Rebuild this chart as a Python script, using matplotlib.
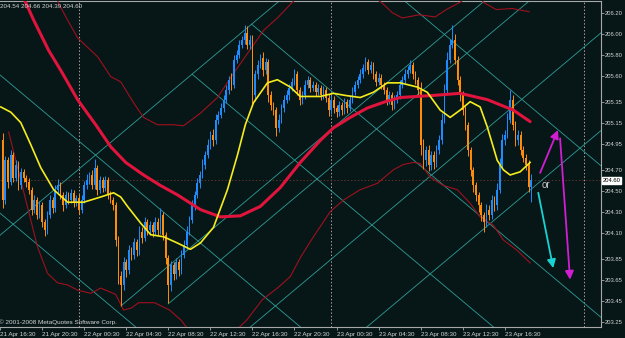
import matplotlib
matplotlib.use("Agg")
import matplotlib.pyplot as plt
import numpy as np

# ---------------- data (15-minute bars, bar 0 opens 21 Apr 16:45) ----------------
open0 = 204.98
closes = [
204.41, 204.79, 204.58, 204.84, 204.62, 204.75, 204.55, 204.68, 204.62, 204.58,
204.51, 204.32, 204.41, 204.27, 204.36, 204.20, 204.12, 204.27, 204.41, 204.33,
204.51, 204.55, 204.46, 204.36, 204.46, 204.41, 204.48, 204.38, 204.43, 204.32,
204.41, 204.55, 204.60, 204.65, 204.55, 204.72, 204.51, 204.60, 204.53, 204.60,
204.46, 204.41, 204.36, 204.03, 203.69, 203.60, 203.82, 203.74, 203.93, 203.89,
204.01, 203.93, 204.11, 204.05, 204.20, 204.12, 204.17, 204.11, 204.20, 204.12,
204.27, 204.08, 203.86, 203.60, 203.79, 203.70, 203.82, 203.74, 203.89, 203.98,
204.11, 204.22, 204.36, 204.46, 204.57, 204.65, 204.75, 204.84, 204.94, 205.03,
204.98, 205.18, 205.22, 205.29, 205.37, 205.46, 205.56, 205.51, 205.75, 205.80,
205.89, 205.94, 206.01, 205.89, 205.94, 205.41, 205.61, 205.70, 205.77, 205.65,
205.73, 205.41, 205.32, 205.27, 205.10, 205.18, 205.29, 205.37, 205.41, 205.48,
205.54, 205.61, 205.46, 205.37, 205.41, 205.51, 205.56, 205.48, 205.51, 205.44,
205.48, 205.41, 205.46, 205.39, 205.27, 205.37, 205.29, 205.25, 205.32, 205.27,
205.35, 205.29, 205.37, 205.44, 205.51, 205.56, 205.61, 205.67, 205.73, 205.65,
205.70, 205.61, 205.54, 205.58, 205.51, 205.46, 205.37, 205.41, 205.32, 205.37,
205.41, 205.51, 205.56, 205.61, 205.65, 205.70, 205.61, 205.56, 205.46, 204.94,
204.79, 204.89, 204.75, 204.84, 204.77, 204.89, 204.98, 205.18, 205.46, 205.75,
205.89, 205.94, 205.75, 205.56, 205.41, 205.27, 205.13, 204.89, 204.70, 204.55,
204.46, 204.36, 204.27, 204.20, 204.32, 204.27, 204.41, 204.36, 204.51, 204.75,
204.98, 205.03, 205.18, 205.37, 205.13, 204.98, 205.03, 204.89, 204.81, 204.75,
204.54, 204.60]
# upper / lower wick beyond the body, in pips (0.01)
hi_ext = [
7,4,3,5,3,4,3,4,3,3, 4,3,5,3,4,3,3,4,5,3, 4,6,3,3,4,3,4,3,3,4, 5,4,6,3,5,8,3,4,3,4,
3,4,3,3,4,4,5,3,5,3, 4,3,5,4,5,3,4,3,5,4, 6,3,3,3,4,3,4,3,4,5, 5,4,5,4,5,4,5,4,5,4,
6,5,4,5,4,5,4,6,5,4, 5,4,7,6,5,5,4,5,4,5, 4,3,4,3,3,5,4,4,5,4, 4,5,3,3,4,5,4,3,4,3,
4,3,4,3,3,4,3,3,4,3, 4,3,4,5,4,4,5,4,5,3, 4,3,3,4,3,3,3,4,3,4, 4,5,4,5,4,5,3,3,3,8,
5,4,5,4,4,5,5,6,6,7, 6,14,6,4,4,4,4,3,3,3, 3,3,3,3,5,4,5,4,6,6, 6,5,6,9,4,4,5,4,4,4,
4,6]
lo_ext = [
8,4,5,3,4,3,4,3,4,4, 4,5,3,4,3,5,5,3,3,4, 3,3,4,5,3,4,3,4,3,4, 3,3,3,4,3,3,5,3,4,3,
4,3,4,6,8,20,5,6,4,5, 4,5,4,5,3,4,4,5,3,4, 3,5,6,17,6,5,4,5,4,3, 4,3,3,4,3,4,3,4,3,4,
5,3,4,3,4,3,4,5,3,3, 3,3,4,4,4,8,5,4,3,5, 4,6,5,5,8,4,3,4,3,4, 3,3,5,5,4,3,3,4,3,4,
3,4,3,4,6,4,5,5,4,5, 4,5,3,3,3,3,3,3,3,4, 3,4,4,3,4,4,5,4,5,4, 3,3,3,3,3,3,4,4,5,10,
8,5,6,5,6,4,4,3,3,3, 3,3,4,5,5,5,5,6,6,6, 6,6,6,9,5,5,4,5,4,3, 3,4,3,3,5,5,4,5,4,5,
5,15]

# slow moving average (thick crimson)
ma_slow_bar = [6.9, 11.8, 17.5, 22.1, 28.5, 35.4, 41.1, 46.8, 53.6, 60.0, 66.5, 75.2, 82.8,
               90.4, 98.0, 105.6, 113.2, 120.8, 125.8, 132.2, 138.7, 145.5, 151.2, 163.8,
               174.0, 184.3, 194.2, 200.6]
ma_slow = [206.40, 206.13, 205.84, 205.65, 205.37, 205.13, 204.92, 204.77, 204.65, 204.55,
           204.46, 204.32, 204.25, 204.26, 204.35, 204.53, 204.77, 204.98, 205.10, 205.20,
           205.29, 205.35, 205.39, 205.41, 205.43, 205.37, 205.27, 205.16]
# fast moving average (yellow)
ma_fast_bar = [-0.7, 3.1, 6.9, 10.7, 14.5, 19.4, 24.7, 30.8, 37.3, 42.2, 44.9, 47.5, 52.5,
               56.3, 61.2, 66.5, 71.4, 75.2, 80.2, 85.5, 89.3, 92.3, 95.4, 100.7, 104.5,
               109.4, 113.2, 120.8, 125.8, 130.3, 136.0, 141.0, 146.3, 151.2, 157.7, 161.5,
               166.4, 170.2, 174.0, 177.8, 181.6, 184.3, 188.1, 190.4, 193.0, 196.8, 200.6]
ma_fast = [205.30, 205.25, 205.15, 204.94, 204.72, 204.51, 204.39, 204.39, 204.44, 204.48,
           204.44, 204.35, 204.19, 204.08, 204.06, 204.00, 203.94, 204.00, 204.15, 204.51,
           204.84, 205.13, 205.34, 205.53, 205.56, 205.49, 205.40, 205.40, 205.43, 205.41,
           205.39, 205.44, 205.53, 205.53, 205.49, 205.44, 205.27, 205.20, 205.27, 205.35,
           205.30, 205.11, 204.79, 204.70, 204.65, 204.68, 204.77]
# envelope bands (thin dark red)
band_up_bar = [20.2, 21.3, 24.7, 28.5, 36.1, 41.1, 44.9, 49.8, 53.6, 58.9, 65.0, 68.8, 75.2,
               81.7, 87.8, 93.1, 99.2, 104.5, 110.2, 115.1, 136.0, 144.0, 148.2, 152.0,
               158.4, 164.5, 168.7, 174.0, 177.8, 180.9, 182.8, 187.7, 193.8, 200.2]
band_up = [206.37, 206.29, 206.13, 205.96, 205.78, 205.59, 205.54, 205.34, 205.20, 205.13,
           205.13, 205.12, 205.24, 205.39, 205.62, 205.81, 206.03, 206.15, 206.30, 206.42,
           206.42, 206.30, 206.20, 206.15, 206.18, 206.16, 206.23, 206.30, 206.37, 206.37,
           206.30, 206.23, 206.24, 206.21]
band_dn_bar = [2.3, 6.9, 13.3, 17.1, 20.9, 24.7, 28.5, 33.5, 37.3, 41.1, 43.0, 46.0, 49.0,
               51.7, 57.8, 63.5, 68.0, 70.7, 75.2, 84.7, 89.7, 92.7, 98.8, 104.5, 109.4,
               113.2, 118.2, 124.6, 129.6, 136.0, 142.5, 148.6, 152.4, 156.2, 158.8, 162.6,
               167.6, 172.9, 177.8, 181.6, 186.6, 190.4, 195.7, 200.6]
band_dn = [205.06, 204.60, 203.96, 203.71, 203.62, 203.60, 203.55, 203.52, 203.57, 203.53,
           203.51, 203.36, 203.38, 203.43, 203.43, 203.36, 203.26, 203.17, 203.03, 203.03,
           203.19, 203.26, 203.46, 203.57, 203.68, 203.86, 204.06, 204.30, 204.41, 204.51,
           204.57, 204.70, 204.75, 204.77, 204.76, 204.63, 204.55, 204.51, 204.38, 204.25,
           204.17, 204.03, 203.93, 203.81]

# Gann lines: anchor bar, anchor price, direction (+1 up, -1 down), full line or ray
gann_bar = [-0.73, -0.73, -0.73, 45.0, 63.0, 100.0, 150.0, 72.2, 94.7, 180.0]
gann_price = [204.08, 204.28, 205.60, 203.40, 203.42, 203.32, 203.44, 205.61, 206.09, 205.74]
gann_dir = [1, -1, -1, 1, 1, 1, 1, -1, -1, -1]
gann_full = [True, True, True, False, False, True, True, False, False, True]
gann_slope = 0.02107  # price per bar

# hand-drawn arrows (bar, price)
arrow_from = [(204.4, 204.67), (212.0, 205.00), (203.7, 204.48)]
arrow_to = [(211.2, 205.08), (215.8, 203.65), (209.4, 203.76)]
arrow_col = ["#d21ed2", "#d21ed2", "#19d2d2"]

ytick_vals = [206.20, 206.00, 205.80, 205.60, 205.35, 205.15, 204.95, 204.70, 204.50,
              204.30, 204.10, 203.85, 203.65, 203.45, 203.25]
xtick_labels = ["21 Apr 16:30", "21 Apr 20:30", "22 Apr 00:30", "22 Apr 04:30",
                "22 Apr 08:30", "22 Apr 12:30", "22 Apr 16:30", "22 Apr 20:30",
                "23 Apr 00:30", "23 Apr 04:30", "23 Apr 08:30", "23 Apr 12:30",
                "23 Apr 16:30"]
xtick_bars = [-1 + 16 * k for k in range(len(xtick_labels))]
day_sep_bars = [29, 125, 221]
header = "204.54 204.66 204.39 204.60"
last_price = 204.60

# ---------------- drawing ----------------
BG = "#071717"
FG = "#d4d4d4"
W, H = 625, 338
plt.rcParams["font.family"] = ["Liberation Sans", "DejaVu Sans"]
fig = plt.figure(figsize=(W / 100, H / 100), dpi=100, facecolor=BG)
ax = fig.add_axes([0, 1 - 326.7 / H, 600.7 / W, (326.7 - 1.3) / H])
ax.set_facecolor(BG)
ax.set_xlim(-0.733, 227.45)
ax.set_ylim(203.201, 206.309)

for s in ["top", "bottom", "right"]:
    ax.spines[s].set_color("#a8a8a8")
    ax.spines[s].set_linewidth(0.8)
ax.spines["left"].set_visible(False)

# separators and price line
for b in day_sep_bars:
    ax.axvline(b, color="#b89a9a", lw=0.7, ls=(0, (1.5, 2.0)), zorder=1)
ax.axhline(last_price, color="#5c3328", lw=0.7, ls=(0, (1.5, 2.0)), zorder=1)

# gann lines
for b0, p0, d, full in zip(gann_bar, gann_price, gann_dir, gann_full):
    xs = [b0 - 300 if full else b0, b0 + 300]
    ys = [p0 + d * gann_slope * (x - b0) for x in xs]
    ax.plot(xs, ys, color="#2f9c98", lw=0.6, zorder=2)

# bands
ax.plot(band_up_bar, band_up, color="#a0101e", lw=0.8, zorder=3)
ax.plot(band_dn_bar, band_dn, color="#a0101e", lw=0.8, zorder=3)

# candles
c = np.array(closes)
o = np.array([open0] + closes[:-1])
hi = np.maximum(o, c) + np.array(hi_ext) * 0.01
lo = np.minimum(o, c) - np.array(lo_ext) * 0.01
x = np.arange(len(c))
cols = np.where(c >= o, "#1e8cff", "#ff8c0a")
ax.vlines(x, lo, hi, colors=cols, lw=0.7, zorder=4)
ax.bar(x, np.maximum(np.abs(c - o), 0.008), bottom=np.minimum(o, c), width=0.62,
       color=cols, linewidth=0, zorder=4)

# moving averages
ax.plot(ma_slow_bar, ma_slow, color="#e0143c", lw=2.2, zorder=5, solid_capstyle="round")
ax.plot(ma_fast_bar, ma_fast, color="#f5ec1e", lw=1.2, zorder=6)

# arrows
for a, b, col in zip(arrow_from, arrow_to, arrow_col):
    ax.annotate("", xy=b, xytext=a,
                arrowprops=dict(arrowstyle="-|>,head_length=0.5,head_width=0.25",
                                color=col, lw=1.3, shrinkA=0, shrinkB=0), zorder=7)
ax.text(206.7, 204.554, "or", color="#c8c8c8", fontsize=7, ha="center", va="center",
        zorder=8)

# axes ticks
ax.yaxis.tick_right()
ax.set_yticks(ytick_vals)
ax.set_yticklabels(["%.2f" % v for v in ytick_vals])
ax.tick_params(axis="y", direction="out", length=2.0, width=0.6, colors="#a8a8a8",
               labelcolor=FG, labelsize=4.2, pad=1.0)
ax.set_xticks(xtick_bars)
ax.set_xticklabels(xtick_labels)
ax.tick_params(axis="x", direction="out", length=2.5, width=0.6, colors="#a8a8a8",
               labelcolor=FG, labelsize=4.5, pad=1.2)
for t in ax.get_xticklabels():
    t.set_ha("left")

# texts
fig.text(0.5 / W, 1 - 6 / H, header, color=FG, fontsize=4.5, ha="left", va="center")
fig.text(-1 / W, 1 - 322 / H, "\u00a9 2001-2008 MetaQuotes Software Corp.", color=FG,
         fontsize=4.6, ha="left", va="center")
ax.text(1.003, last_price, "%.2f" % last_price, transform=ax.get_yaxis_transform(),
        color="black", fontsize=4.2, ha="left", va="center",
        bbox=dict(boxstyle="square,pad=0.15", fc="white", ec="white"), zorder=10,
        clip_on=False)

fig.savefig("out.png", dpi=100, facecolor=BG)
